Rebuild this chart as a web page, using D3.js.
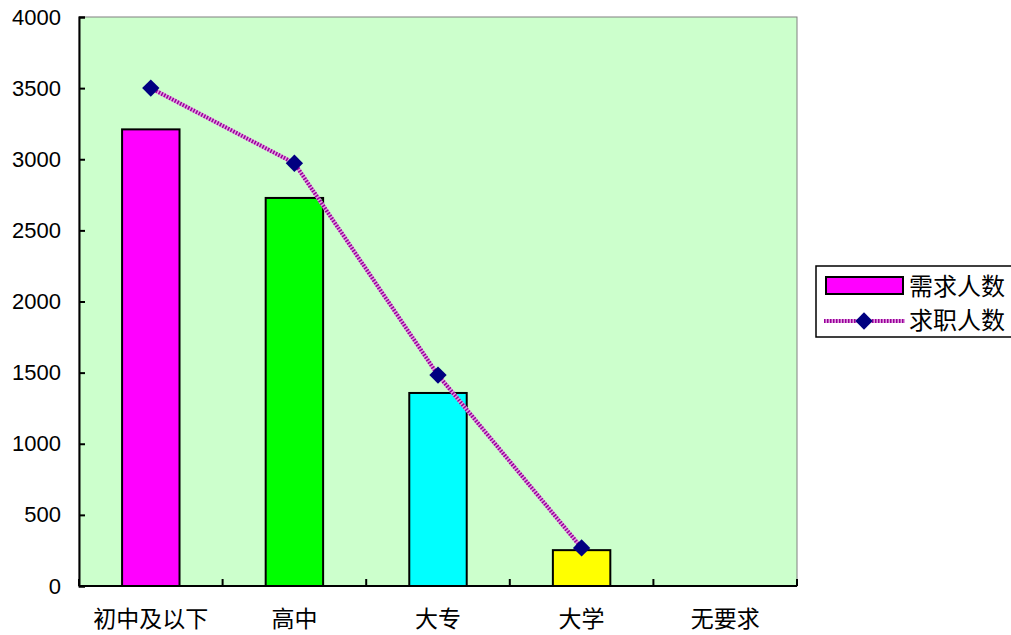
<!DOCTYPE html>
<html><head><meta charset="utf-8">
<script src="https://cdn.jsdelivr.net/npm/d3@7"></script>
<style>body{margin:0;background:#fff}</style>
</head><body>
<svg id="c" width="1011" height="635"></svg>
<script>
const categories = ["初中及以下","高中","大专","大学","无要求"];
const demand = [3210, 2728, 1357, 252, null];
const seekers = [3500, 2972, 1483, 268, null];
const barColors = ["#FF00FF","#00FF00","#00FFFF","#FFFF00","#FF0000"];
const yTicks = [0,500,1000,1500,2000,2500,3000,3500,4000];
const seriesNames = ["需求人数","求职人数"];

const svg = d3.select("#c");
const L=79, R=797, T=17, B=586;
const x = d3.scaleBand().domain(categories).range([L,R]).paddingInner(0).paddingOuter(0);
const y = d3.scaleLinear().domain([0,4000]).range([B,T]);
const cjk = "'Noto Sans CJK SC', sans-serif";

svg.append("rect").attr("x",L).attr("y",T).attr("width",R-L).attr("height",B-T)
  .attr("fill","#CCFFCC").attr("stroke","#808080").attr("stroke-width",1);

// bars
const bw = x.bandwidth()*0.4;
svg.selectAll(".bar").data(categories.map((c,i)=>({c,v:demand[i],i})).filter(d=>d.v!=null))
  .enter().append("rect")
  .attr("x",d=>x(d.c)+x.bandwidth()/2-bw/2).attr("width",bw)
  .attr("y",d=>y(d.v)).attr("height",d=>y(0)-y(d.v))
  .attr("fill",d=>barColors[d.i]).attr("stroke","#000").attr("stroke-width",2);

// axes
const yAxis = d3.axisLeft(y).tickValues(yTicks).tickSize(-6).tickPadding(18).tickFormat(d3.format("d"));
const gy = svg.append("g").attr("transform",`translate(${L},0)`).call(yAxis);
gy.select(".domain").attr("stroke","#000").attr("stroke-width",2);
gy.selectAll(".tick line").attr("stroke","#000").attr("stroke-width",2);
gy.selectAll(".tick text").attr("font-family","Arial, 'Liberation Sans', sans-serif").attr("font-size","22px").attr("fill","#000");

svg.append("line").attr("x1",L).attr("x2",R).attr("y1",B).attr("y2",B).attr("stroke","#000").attr("stroke-width",2);
const bounds = categories.map(c=>x(c)).concat([R]);
svg.selectAll(".xt").data(bounds).enter().append("line")
  .attr("x1",d=>d).attr("x2",d=>d).attr("y1",B).attr("y2",B-7).attr("stroke","#000").attr("stroke-width",2);
svg.selectAll(".xl").data(categories).enter().append("text")
  .attr("x",d=>x(d)+x.bandwidth()/2).attr("y",627).attr("text-anchor","middle")
  .attr("font-family",cjk).attr("font-size","23px").attr("fill","#000").text(d=>d);

// line
const pts = categories.map((c,i)=>({c,v:seekers[i]})).filter(d=>d.v!=null);
const line = d3.line().x(d=>x(d.c)+x.bandwidth()/2).y(d=>y(d.v));
svg.append("path").datum(pts).attr("d",line).attr("fill","none").attr("stroke","#E0A0E0").attr("stroke-width",4);
svg.append("path").datum(pts).attr("d",line).attr("fill","none").attr("stroke","#990099").attr("stroke-width",4).attr("stroke-dasharray","1.5,1.5");
const diamond = d3.symbol().type(d3.symbolSquare).size(150);
svg.selectAll(".pt").data(pts).enter().append("path").attr("d",diamond)
  .attr("transform",d=>`translate(${x(d.c)+x.bandwidth()/2},${y(d.v)}) rotate(45)`)
  .attr("fill","#000080");

// legend
const lg = svg.append("g");
lg.append("rect").attr("x",816).attr("y",266).attr("width",200).attr("height",71).attr("fill","#fff").attr("stroke","#000").attr("stroke-width",1.5);
lg.append("rect").attr("x",826).attr("y",277).attr("width",77).attr("height",17).attr("fill",barColors[0]).attr("stroke","#000").attr("stroke-width",2);
lg.append("line").attr("x1",824).attr("x2",905).attr("y1",321).attr("y2",321).attr("stroke","#E0A0E0").attr("stroke-width",4);
lg.append("line").attr("x1",824).attr("x2",905).attr("y1",321).attr("y2",321).attr("stroke","#990099").attr("stroke-width",4).attr("stroke-dasharray","1.5,1.5");
lg.append("path").attr("d",diamond).attr("transform","translate(864,321) rotate(45)").attr("fill","#000080");
lg.selectAll(".lt").data(seriesNames).enter().append("text")
  .attr("x",909).attr("y",(d,i)=>295+i*34).attr("font-family",cjk).attr("font-size","24px").attr("fill","#000").text(d=>d);
</script>
</body></html>
